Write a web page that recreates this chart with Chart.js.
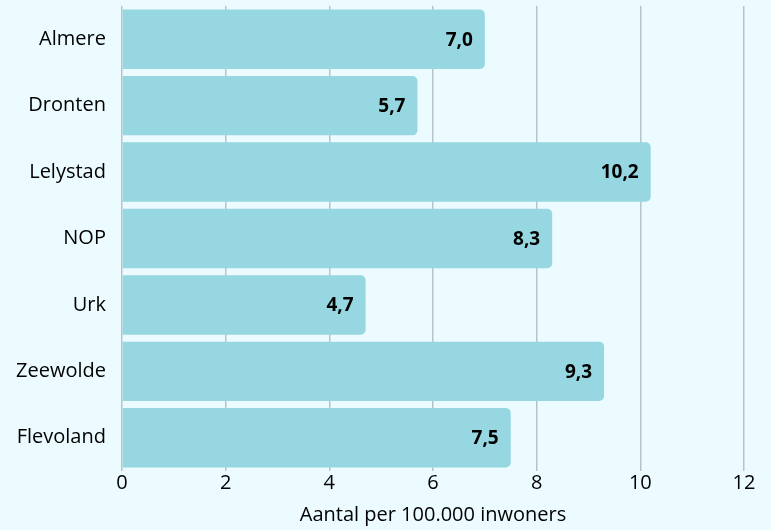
<!DOCTYPE html>
<html><head><meta charset="utf-8">
<script src="https://cdn.jsdelivr.net/npm/chart.js@4/dist/chart.umd.min.js"></script>
<style>html,body{margin:0;padding:0;background:#ebfbff;}#wrap{width:771px;height:530px;}</style>
</head><body><div id="wrap"><canvas id="c" width="771" height="530"></canvas></div>
<script>
const categories = ["Almere","Dronten","Lelystad","NOP","Urk","Zeewolde","Flevoland"];
const values = [7.0, 5.7, 10.2, 8.3, 4.7, 9.3, 7.5];
const xTicks = [0,2,4,6,8,10,12];
const xTitle = "Aantal per 100.000 inwoners";
const FONT = "'Open Sans', 'Noto Sans', sans-serif";

const labelPlugin = {
  id: 'barLabels',
  afterDatasetsDraw(chart) {
    const ctx = chart.ctx;
    const meta = chart.getDatasetMeta(0);
    ctx.save();
    ctx.font = "bold 19px " + FONT;
    ctx.fillStyle = "#000";
    ctx.textAlign = "right";
    ctx.textBaseline = "middle";
    meta.data.forEach((bar, i) => {
      ctx.fillText(values[i].toFixed(1).replace('.', ','), bar.x - 12, bar.y + 1);
    });
    ctx.restore();
  }
};

new Chart(document.getElementById('c'), {
  type: 'bar',
  data: { labels: categories, datasets: [{ data: values, backgroundColor: '#96d7e2', borderRadius: 5, barPercentage: 1, categoryPercentage: 0.895 }] },
  options: {
    indexAxis: 'y', responsive: false, animation: false,
    layout: { padding: { left: 0, right: 27, top: 6, bottom: 3 } },
    plugins: { legend: { display: false }, tooltip: { enabled: false } },
    scales: {
      x: {
        min: 0, max: 12,
        afterBuildTicks(s) { s.ticks = xTicks.map(v => ({ value: v })); },
        grid: { color: '#b9c3c7', lineWidth: 1.5, drawTicks: false },
        border: { display: false },
        ticks: { color: '#000', font: { family: FONT, size: 20 }, padding: 0 },
        title: { display: true, text: xTitle, color: '#000', font: { family: FONT, size: 20 }, padding: { top: 8, bottom: 0 } }
      },
      y: {
        afterFit(s) { s.paddingTop = 0; s.paddingBottom = 0; },
        grid: { display: false, drawTicks: false }, border: { display: false },
        ticks: { color: '#000', font: { family: FONT, size: 20 }, padding: 16 }
      }
    }
  },
  plugins: [labelPlugin]
});
</script></body></html>
